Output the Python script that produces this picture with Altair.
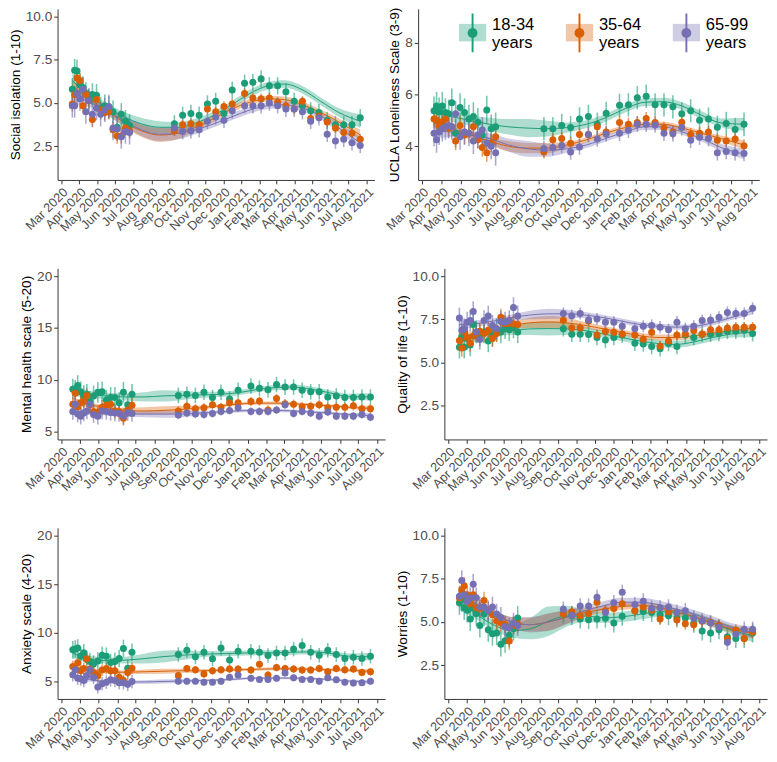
import altair as alt
import pandas as pd

GROUPS = ["18-34 years", "35-64 years", "65-99 years"]
GROUP_KEYS = ["18-34|years", "35-64|years", "65-99|years"]
COLORS = ["#1B9E77", "#D95F02", "#7570B3"]

EARLY_DATES = ["2020/03/20", "2020/03/24", "2020/03/28", "2020/04/02", "2020/04/07",
               "2020/04/12", "2020/04/17", "2020/04/23", "2020/04/30", "2020/05/07",
               "2020/05/14", "2020/05/21", "2020/05/28", "2020/06/04", "2020/06/11",
               "2020/06/18", "2020/06/25"]
LATE_DATES = ["2020/09/09", "2020/09/23", "2020/10/07", "2020/10/21", "2020/11/04",
              "2020/11/18", "2020/12/02", "2020/12/16", "2021/01/06", "2021/01/20",
              "2021/02/03", "2021/02/17", "2021/03/03", "2021/03/17", "2021/03/31",
              "2021/04/14", "2021/04/28", "2021/05/12", "2021/05/26", "2021/06/09",
              "2021/06/23", "2021/07/07", "2021/07/21"]
KNOT_DATES = ["2020/03/20", "2020/04/15", "2020/05/15", "2020/06/15", "2020/07/15",
              "2020/08/15", "2020/09/15", "2020/10/15", "2020/11/15", "2020/12/15",
              "2021/01/15", "2021/02/15", "2021/03/15", "2021/04/15", "2021/05/15",
              "2021/06/15", "2021/07/21"]

# ---------------- Social isolation (1-10)
SOC_A_EARLY = [5.8, 6.9, 6.85, 6.05, 5.9, 5.55, 5.2, 5.5, 5.45, 4.7, 4.85, 4.75, 4.5, 3.6, 4.35, 3.95, 3.7]
SOC_A_LATE = [3.8, 4.3, 4.4, 4.3, 4.95, 5.1, 4.4, 5.75, 6.15, 6.2, 6.4, 6.0, 6.0, 5.65, 5.1, 4.85, 4.55, 4.45, 4.0, 3.75, 3.75, 3.75, 4.15]
SOC_B_EARLY = [4.95, 5.5, 6.45, 6.3, 4.85, 5.5, 5.15, 4.05, 5.2, 4.6, 4.45, 4.5, 3.45, 3.1, 3.1, 3.55, 3.4]
SOC_B_LATE = [3.4, 3.75, 3.8, 3.75, 4.65, 4.5, 4.8, 4.95, 5.55, 5.3, 5.25, 5.3, 5.05, 4.85, 4.65, 5.1, 4.1, 4.25, 3.9, 3.55, 3.3, 3.25, 2.9]
SOC_C_EARLY = [4.85, 4.85, 5.55, 5.25, 5.8, 4.5, 5.15, 4.35, 4.7, 4.35, 4.6, 4.8, 3.55, 3.5, 3.05, 3.35, 3.3]
SOC_C_LATE = [3.55, 3.35, 3.4, 3.45, 3.95, 4.2, 4.0, 4.55, 4.85, 4.85, 4.85, 5.0, 4.85, 4.65, 4.65, 4.5, 3.95, 4.15, 3.2, 2.8, 2.9, 2.7, 2.55]
SOC_ERR = [(0.65, 0.5), (0.45, 0.3), (0.7, 0.45)]
SOC_A_FIT = [6.3, 5.5, 4.8, 4.2, 3.8, 3.6, 3.6, 3.85, 4.3, 4.9, 5.55, 6.0, 6.1, 5.75, 5.1, 4.45, 3.95]
SOC_B_FIT = [6.0, 5.3, 4.6, 3.9, 3.4, 3.15, 3.25, 3.6, 4.1, 4.65, 5.05, 5.25, 5.2, 4.9, 4.45, 3.9, 3.15]
SOC_C_FIT = [5.4, 5.1, 4.6, 4.0, 3.45, 3.2, 3.25, 3.45, 3.8, 4.2, 4.6, 4.85, 4.9, 4.7, 4.25, 3.55, 2.7]
SOC_A_BAND = [0.45, 0.3, 0.25, 0.3, 0.35, 0.35, 0.3, 0.25, 0.22, 0.22, 0.22, 0.22, 0.22, 0.22, 0.22, 0.25, 0.4]
SOC_B_BAND = [0.35, 0.25, 0.2, 0.25, 0.35, 0.4, 0.35, 0.22, 0.18, 0.18, 0.18, 0.18, 0.18, 0.18, 0.18, 0.2, 0.3]
SOC_C_BAND = [0.45, 0.3, 0.25, 0.3, 0.35, 0.4, 0.35, 0.25, 0.2, 0.2, 0.2, 0.2, 0.2, 0.2, 0.2, 0.25, 0.35]

# ---------------- UCLA Loneliness Scale (3-9)
UCLA_A_EARLY = [5.37, 5.55, 5.33, 5.55, 5.3, 5.25, 5.68, 4.5, 5.5, 5.3, 5.05, 5.15, 4.93, 4.43, 5.4, 4.68, 4.75]
UCLA_A_LATE = [4.68, 4.68, 4.8, 4.72, 5.05, 5.15, 4.85, 5.27, 5.58, 5.6, 5.87, 5.93, 5.6, 5.6, 5.52, 5.25, 5.37, 5.0, 5.05, 4.73, 4.88, 4.65, 4.85]
UCLA_B_EARLY = [5.05, 5.0, 4.8, 4.95, 5.05, 4.7, 4.75, 4.2, 4.8, 4.43, 4.5, 4.75, 4.25, 3.95, 3.75, 4.13, 4.37]
UCLA_B_LATE = [3.78, 4.25, 4.3, 4.12, 4.45, 4.45, 4.75, 4.55, 4.92, 4.85, 4.92, 5.07, 4.92, 4.7, 4.55, 4.93, 4.45, 4.5, 4.55, 4.23, 4.2, 4.28, 4.02]
UCLA_C_EARLY = [4.5, 4.25, 4.55, 4.68, 4.75, 4.8, 4.75, 5.25, 4.37, 4.55, 4.5, 4.2, 4.43, 4.63, 4.13, 4.0, 3.75]
UCLA_C_LATE = [3.9, 3.95, 4.03, 3.78, 3.97, 4.45, 4.28, 4.47, 4.5, 4.62, 4.85, 4.85, 4.82, 4.5, 4.48, 4.72, 4.23, 4.35, 4.3, 3.75, 3.8, 3.75, 3.72]
UCLA_ERR = [(0.55, 0.45), (0.35, 0.25), (0.5, 0.3)]
UCLA_A_FIT = [5.3, 5.15, 5.0, 4.85, 4.75, 4.7, 4.68, 4.72, 4.85, 5.1, 5.45, 5.7, 5.72, 5.55, 5.2, 4.9, 4.85]
UCLA_B_FIT = [4.9, 4.7, 4.45, 4.2, 4.0, 3.93, 3.93, 4.05, 4.25, 4.5, 4.72, 4.85, 4.85, 4.7, 4.5, 4.3, 4.05]
UCLA_C_FIT = [4.6, 4.55, 4.45, 4.3, 4.05, 3.9, 3.85, 3.9, 4.05, 4.3, 4.55, 4.75, 4.75, 4.55, 4.3, 3.95, 3.7]
UCLA_A_BAND = [0.3, 0.2, 0.2, 0.25, 0.3, 0.35, 0.3, 0.2, 0.15, 0.15, 0.15, 0.15, 0.15, 0.15, 0.15, 0.17, 0.25]
UCLA_B_BAND = [0.2, 0.15, 0.12, 0.15, 0.2, 0.2, 0.2, 0.12, 0.1, 0.1, 0.1, 0.1, 0.1, 0.1, 0.1, 0.12, 0.18]
UCLA_C_BAND = [0.3, 0.2, 0.15, 0.2, 0.25, 0.3, 0.25, 0.15, 0.12, 0.12, 0.12, 0.12, 0.12, 0.12, 0.12, 0.15, 0.2]

# ---------------- Mental health scale (5-20)
MH_A_EARLY = [9.1, 9.0, 9.45, 8.85, 8.5, 8.6, 7.9, 8.45, 8.8, 8.85, 8.05, 8.3, 8.3, 7.8, 8.8, 7.6, 8.6]
MH_A_LATE = [8.5, 8.6, 8.5, 8.8, 8.3, 8.8, 8.15, 9.0, 9.4, 9.2, 9.05, 9.55, 9.3, 9.3, 9.0, 8.85, 8.85, 8.35, 8.45, 8.3, 8.3, 8.35, 8.35]
MH_B_EARLY = [7.65, 8.7, 7.4, 7.8, 7.95, 8.5, 7.6, 6.95, 6.9, 7.35, 7.55, 7.65, 7.0, 6.95, 6.3, 7.1, 7.55]
MH_B_LATE = [7.0, 7.45, 7.2, 7.3, 7.6, 7.35, 7.8, 7.8, 7.9, 7.95, 7.1, 8.2, 7.7, 7.65, 7.4, 7.45, 7.6, 7.3, 7.35, 7.35, 7.5, 7.2, 7.2]
MH_C_EARLY = [6.95, 7.65, 6.7, 6.5, 6.8, 7.0, 7.65, 6.65, 6.5, 7.0, 6.95, 6.85, 6.8, 6.75, 6.5, 6.85, 6.75]
MH_C_LATE = [6.6, 6.8, 6.7, 6.65, 6.75, 6.95, 7.05, 7.3, 6.95, 6.95, 6.95, 7.1, 7.6, 6.75, 6.95, 6.8, 6.5, 6.9, 6.5, 6.5, 6.5, 6.65, 6.4]
MH_ERR = [(1.0, 0.75), (0.7, 0.45), (0.8, 0.4)]
MH_A_FIT = [9.0, 8.6, 8.45, 8.35, 8.35, 8.45, 8.5, 8.55, 8.6, 8.75, 9.05, 9.25, 9.3, 9.1, 8.75, 8.4, 8.35]
MH_B_FIT = [7.9, 7.6, 7.3, 7.05, 7.0, 7.05, 7.15, 7.3, 7.5, 7.65, 7.75, 7.75, 7.7, 7.6, 7.5, 7.35, 7.25]
MH_C_FIT = [7.0, 6.85, 6.75, 6.7, 6.7, 6.7, 6.7, 6.8, 6.9, 7.0, 7.05, 7.05, 7.0, 6.9, 6.8, 6.65, 6.55]
MH_A_BAND = [0.5, 0.35, 0.3, 0.35, 0.45, 0.55, 0.45, 0.3, 0.25, 0.25, 0.25, 0.25, 0.25, 0.25, 0.25, 0.25, 0.35]
MH_B_BAND = [0.4, 0.25, 0.2, 0.25, 0.35, 0.4, 0.35, 0.2, 0.15, 0.15, 0.15, 0.15, 0.15, 0.15, 0.15, 0.15, 0.25]
MH_C_BAND = [0.4, 0.25, 0.2, 0.25, 0.3, 0.35, 0.3, 0.2, 0.15, 0.15, 0.15, 0.15, 0.15, 0.15, 0.15, 0.15, 0.25]

# ---------------- Quality of life (1-10)
QOL_A_EARLY = [5.89, 6.49, 5.89, 6.4, 6.02, 7.2, 6.77, 6.59, 6.77, 6.25, 6.59, 6.87, 6.77, 7.02, 6.9, 7.05, 6.77]
QOL_A_LATE = [6.96, 6.64, 6.64, 6.62, 6.45, 6.3, 6.45, 6.59, 6.12, 6.08, 5.93, 5.8, 6.1, 5.93, 6.59, 6.45, 6.64, 6.64, 6.68, 6.81, 6.81, 6.87, 6.68]
QOL_B_EARLY = [6.27, 5.84, 6.77, 6.45, 6.12, 6.53, 6.68, 6.81, 6.68, 6.87, 6.4, 6.68, 7.62, 7.25, 7.28, 7.25, 7.2]
QOL_B_LATE = [7.45, 7.0, 7.0, 7.4, 6.6, 6.8, 6.75, 6.65, 6.6, 6.35, 6.75, 5.95, 6.25, 6.6, 6.65, 6.85, 6.65, 6.9, 6.9, 7.0, 7.05, 7.05, 7.05]
QOL_C_EARLY = [7.58, 6.87, 6.96, 7.34, 7.43, 7.95, 6.77, 6.34, 7.43, 7.7, 7.15, 6.96, 7.37, 7.34, 7.43, 8.18, 7.7]
QOL_C_LATE = [7.84, 7.71, 7.84, 7.47, 7.52, 7.34, 7.34, 7.1, 6.96, 7.1, 7.15, 7.05, 6.9, 7.34, 6.96, 7.1, 7.43, 7.47, 7.62, 7.9, 7.84, 7.84, 8.14]
QOL_ERR = [(0.65, 0.45), (0.5, 0.3), (0.6, 0.35)]
QOL_A_FIT = [6.2, 6.45, 6.7, 6.85, 6.95, 6.97, 6.95, 6.85, 6.65, 6.45, 6.25, 6.1, 6.05, 6.2, 6.45, 6.65, 6.75]
QOL_B_FIT = [6.4, 6.65, 6.9, 7.15, 7.3, 7.35, 7.3, 7.15, 6.95, 6.75, 6.55, 6.45, 6.45, 6.55, 6.7, 6.85, 7.0]
QOL_C_FIT = [7.2, 7.25, 7.4, 7.6, 7.75, 7.82, 7.82, 7.75, 7.6, 7.4, 7.2, 7.1, 7.05, 7.1, 7.3, 7.6, 8.0]
QOL_A_BAND = [0.35, 0.25, 0.2, 0.25, 0.35, 0.4, 0.35, 0.22, 0.2, 0.2, 0.2, 0.2, 0.2, 0.2, 0.2, 0.2, 0.28]
QOL_B_BAND = [0.3, 0.2, 0.18, 0.22, 0.3, 0.35, 0.3, 0.2, 0.17, 0.17, 0.17, 0.17, 0.17, 0.17, 0.17, 0.17, 0.25]
QOL_C_BAND = [0.3, 0.2, 0.15, 0.18, 0.25, 0.3, 0.25, 0.17, 0.15, 0.15, 0.15, 0.15, 0.15, 0.15, 0.15, 0.15, 0.22]

# ---------------- Anxiety scale (4-20)
ANX_A_EARLY = [8.27, 8.35, 8.45, 7.6, 7.95, 7.25, 7.05, 6.8, 7.1, 7.7, 7.6, 6.95, 7.05, 7.35, 8.4, 6.35, 8.0]
ANX_A_LATE = [7.77, 8.2, 7.53, 8.0, 7.33, 8.43, 7.2, 8.1, 8.1, 8.0, 7.67, 7.93, 7.93, 8.33, 8.7, 8.0, 7.7, 8.2, 7.77, 7.37, 7.5, 7.37, 7.6]
ANX_B_EARLY = [6.53, 6.2, 6.93, 6.1, 6.33, 7.33, 6.27, 5.93, 5.6, 6.17, 6.33, 6.1, 6.1, 5.43, 5.1, 5.93, 6.37]
ANX_B_LATE = [5.6, 6.33, 6.2, 5.77, 6.1, 6.2, 6.27, 6.27, 6.17, 6.77, 5.67, 6.43, 6.33, 6.27, 6.17, 6.17, 6.33, 6.0, 6.33, 6.2, 6.27, 5.93, 6.0]
ANX_C_EARLY = [5.7, 6.2, 5.33, 5.27, 5.1, 5.6, 6.2, 5.43, 4.43, 4.77, 4.93, 5.17, 5.1, 4.87, 4.87, 4.7, 5.0]
ANX_C_LATE = [5.03, 5.03, 5.03, 4.93, 4.93, 5.03, 5.43, 5.67, 5.33, 5.2, 5.2, 5.33, 5.87, 5.37, 5.2, 5.2, 5.03, 5.37, 5.17, 4.93, 4.83, 4.87, 5.03]
ANX_ERR = [(0.9, 0.75), (0.6, 0.4), (0.7, 0.35)]
ANX_A_FIT = [7.9, 7.35, 7.15, 7.2, 7.35, 7.55, 7.7, 7.8, 7.85, 7.9, 7.95, 7.95, 8.0, 8.05, 7.9, 7.6, 7.55]
ANX_B_FIT = [6.5, 6.2, 6.0, 5.95, 6.0, 6.05, 6.1, 6.1, 6.15, 6.2, 6.25, 6.3, 6.3, 6.25, 6.2, 6.15, 6.05]
ANX_C_FIT = [5.6, 5.2, 5.0, 4.95, 4.95, 5.0, 5.05, 5.1, 5.15, 5.25, 5.35, 5.35, 5.35, 5.3, 5.2, 5.05, 4.95]
ANX_A_BAND = [0.5, 0.35, 0.3, 0.35, 0.5, 0.6, 0.5, 0.3, 0.25, 0.25, 0.25, 0.25, 0.25, 0.25, 0.25, 0.28, 0.4]
ANX_B_BAND = [0.3, 0.2, 0.15, 0.18, 0.22, 0.25, 0.22, 0.17, 0.15, 0.15, 0.15, 0.15, 0.15, 0.15, 0.15, 0.15, 0.2]
ANX_C_BAND = [0.3, 0.2, 0.15, 0.15, 0.18, 0.2, 0.18, 0.14, 0.12, 0.12, 0.12, 0.12, 0.12, 0.12, 0.12, 0.12, 0.18]

# ---------------- Worries (1-10)
WOR_A_EARLY = [6.12, 6.3, 5.83, 5.68, 5.18, 5.83, 5.5, 4.8, 5.46, 4.56, 4.33, 4.37, 3.71, 3.92, 4.24, 4.62, 5.23]
WOR_A_LATE = [5.46, 5.37, 5.18, 5.14, 5.18, 5.22, 4.95, 5.33, 5.65, 5.61, 5.55, 5.42, 5.37, 5.23, 5.23, 4.93, 4.48, 4.37, 4.56, 4.15, 4.05, 4.05, 4.37]
WOR_B_EARLY = [6.4, 6.87, 7.1, 6.58, 6.06, 6.58, 5.83, 5.78, 6.25, 5.65, 5.42, 5.08, 4.94, 4.86, 3.9, 4.8, 4.9]
WOR_B_LATE = [5.46, 5.59, 5.37, 5.5, 6.15, 5.65, 5.78, 6.06, 5.65, 5.87, 5.68, 5.18, 5.59, 5.12, 4.9, 4.84, 5.05, 4.99, 4.8, 4.05, 4.52, 4.05, 4.43]
WOR_C_EARLY = [6.5, 7.4, 6.58, 6.2, 6.4, 7.19, 6.4, 5.87, 5.87, 5.65, 5.87, 5.46, 5.27, 4.75, 4.65, 4.94, 4.8]
WOR_C_LATE = [5.74, 5.4, 5.93, 5.93, 6.44, 5.55, 6.12, 6.72, 6.02, 6.21, 5.8, 5.83, 5.87, 5.55, 5.65, 5.23, 5.08, 4.95, 4.71, 3.83, 4.3, 4.58, 4.58]
WOR_ERR = [(0.7, 0.55), (0.5, 0.35), (0.6, 0.45)]
WOR_A_FIT = [6.1, 5.5, 4.85, 4.5, 4.6, 5.05, 5.35, 5.35, 5.25, 5.3, 5.45, 5.6, 5.55, 5.3, 4.95, 4.55, 4.2]
WOR_B_FIT = [6.6, 6.05, 5.5, 5.0, 4.85, 5.0, 5.3, 5.55, 5.75, 5.9, 5.95, 5.85, 5.6, 5.3, 4.95, 4.6, 4.35]
WOR_C_FIT = [6.7, 6.1, 5.5, 5.0, 4.85, 5.0, 5.3, 5.65, 5.95, 6.15, 6.15, 6.0, 5.75, 5.45, 5.1, 4.7, 4.4]
WOR_A_BAND = [0.4, 0.3, 0.3, 0.4, 0.6, 0.85, 0.6, 0.35, 0.3, 0.3, 0.3, 0.3, 0.25, 0.25, 0.25, 0.25, 0.35]
WOR_B_BAND = [0.35, 0.25, 0.2, 0.3, 0.4, 0.5, 0.4, 0.25, 0.2, 0.2, 0.2, 0.2, 0.2, 0.2, 0.2, 0.22, 0.3]
WOR_C_BAND = [0.4, 0.3, 0.25, 0.3, 0.45, 0.5, 0.4, 0.28, 0.25, 0.25, 0.25, 0.25, 0.25, 0.25, 0.25, 0.25, 0.33]

FONT = "Liberation Sans"
# legend key shapes (unit symbol space); shifted down to sit beside the two-line label
FILL_PATH = "M-1,-0.04H1V1.24H-1Z"
POINT_PATH = ("M-0.07,-0.83H0.07V2.03H-0.07Z "
              "M0.36,0.6A0.36,0.36 0 1,1 -0.36,0.6A0.36,0.36 0 1,1 0.36,0.6Z")

LEG_COMMON = dict(title=None, orient="none", legendX=413, legendY=2, direction="horizontal",
                  symbolSize=784, labelFontSize=17,
                  labelFont=FONT, labelOffset=6, columnPadding=32, padding=0,
                  symbolStrokeWidth=0)
FILL_LEGEND = alt.Legend(symbolType=FILL_PATH, symbolOpacity=0.35, labelColor="transparent",
                         labelExpr="split(datum.label, ' ')", zindex=0, **LEG_COMMON)
COLOR_LEGEND = alt.Legend(symbolType=POINT_PATH, symbolOpacity=1, labelColor="black",
                          labelExpr="split(datum.label, '|')", zindex=1, **LEG_COMMON)

X_SCALE = alt.Scale(domain=[alt.DateTime(year=2020, month=2, date=24),
                            alt.DateTime(year=2021, month=8, date=14)], nice=False)
X_AXIS = alt.Axis(format="%b %Y", tickCount={"interval": "month", "step": 1},
                  labelAngle=315, labelAlign="right", labelBaseline="top",
                  labelFlush=False, labelOverlap=False, labelFontSize=13, title=None)


def make_points(series, errs):
    rows = []
    for g, k, (early, late), (e_early, e_late) in zip(GROUPS, GROUP_KEYS, series, errs):
        for d, v in zip(EARLY_DATES, early):
            rows.append({"date": d, "grp": k, "group": g, "value": v,
                         "lo": v - e_early, "hi": v + e_early})
        for d, v in zip(LATE_DATES, late):
            rows.append({"date": d, "grp": k, "group": g, "value": v,
                         "lo": v - e_late, "hi": v + e_late})
    return pd.DataFrame(rows)


def make_smooth(fits, bands):
    rows = []
    for g, fit, band in zip(GROUPS, fits, bands):
        for d, f, b in zip(KNOT_DATES, fit, band):
            rows.append({"date": d, "group": g, "fit": f, "lo": f - b, "hi": f + b})
    return pd.DataFrame(rows)


def panel(title, series, errs, fits, bands, domain, ticks, fmt, width, height):
    pts = make_points(series, errs)
    sm = make_smooth(fits, bands)
    ys = alt.Scale(domain=domain, nice=False, zero=False)
    ya = alt.Axis(values=ticks, format=fmt, labelFontSize=14, title=title)
    x = alt.X("date:T", scale=X_SCALE, axis=X_AXIS)
    fill = alt.Fill("group:N", scale=alt.Scale(domain=GROUPS, range=COLORS), legend=FILL_LEGEND)
    color = alt.Color("grp:N", scale=alt.Scale(domain=GROUP_KEYS, range=COLORS), legend=COLOR_LEGEND)
    stroke = alt.Stroke("group:N", scale=alt.Scale(domain=GROUPS, range=COLORS), legend=None)

    band = alt.Chart(sm).mark_area(opacity=0.35, interpolate="monotone").encode(
        x=x, y=alt.Y("lo:Q", scale=ys, axis=ya, title=title), y2="hi:Q", fill=fill)
    line = alt.Chart(sm).mark_line(strokeWidth=1, interpolate="monotone").encode(
        x=x, y=alt.Y("fit:Q", scale=ys, axis=ya, title=title), stroke=stroke)
    rules = alt.Chart(pts).mark_rule(strokeWidth=1.6, opacity=0.6).encode(
        x=x, y=alt.Y("lo:Q", scale=ys, axis=ya, title=title), y2="hi:Q", stroke=stroke)
    dots = alt.Chart(pts).mark_circle(size=52, opacity=1).encode(
        x=x, y=alt.Y("value:Q", scale=ys, axis=ya, title=title), color=color)
    return alt.layer(band, line, rules, dots).properties(width=width, height=height)


H = 176
p_soc = panel("Social isolation (1-10)",
              [(SOC_A_EARLY, SOC_A_LATE), (SOC_B_EARLY, SOC_B_LATE), (SOC_C_EARLY, SOC_C_LATE)],
              SOC_ERR, [SOC_A_FIT, SOC_B_FIT, SOC_C_FIT], [SOC_A_BAND, SOC_B_BAND, SOC_C_BAND],
              [0.55, 10.45], [2.5, 5.0, 7.5, 10.0], ".1f", 326, H)
p_ucla = panel("UCLA Loneliness Scale (3-9)",
               [(UCLA_A_EARLY, UCLA_A_LATE), (UCLA_B_EARLY, UCLA_B_LATE), (UCLA_C_EARLY, UCLA_C_LATE)],
               UCLA_ERR, [UCLA_A_FIT, UCLA_B_FIT, UCLA_C_FIT], [UCLA_A_BAND, UCLA_B_BAND, UCLA_C_BAND],
               [2.7, 9.3], [4, 6, 8], "d", 351, H)
p_mh = panel("Mental health scale (5-20)",
             [(MH_A_EARLY, MH_A_LATE), (MH_B_EARLY, MH_B_LATE), (MH_C_EARLY, MH_C_LATE)],
             MH_ERR, [MH_A_FIT, MH_B_FIT, MH_C_FIT], [MH_A_BAND, MH_B_BAND, MH_C_BAND],
             [4.25, 20.75], [5, 10, 15, 20], "d", 337, H)
p_qol = panel("Quality of life (1-10)",
              [(QOL_A_EARLY, QOL_A_LATE), (QOL_B_EARLY, QOL_B_LATE), (QOL_C_EARLY, QOL_C_LATE)],
              QOL_ERR, [QOL_A_FIT, QOL_B_FIT, QOL_C_FIT], [QOL_A_BAND, QOL_B_BAND, QOL_C_BAND],
              [0.55, 10.45], [2.5, 5.0, 7.5, 10.0], ".1f", 332, H)
p_anx = panel("Anxiety scale (4-20)",
              [(ANX_A_EARLY, ANX_A_LATE), (ANX_B_EARLY, ANX_B_LATE), (ANX_C_EARLY, ANX_C_LATE)],
              ANX_ERR, [ANX_A_FIT, ANX_B_FIT, ANX_C_FIT], [ANX_A_BAND, ANX_B_BAND, ANX_C_BAND],
              [3.2, 20.8], [5, 10, 15, 20], "d", 337, H)
p_wor = panel("Worries (1-10)",
              [(WOR_A_EARLY, WOR_A_LATE), (WOR_B_EARLY, WOR_B_LATE), (WOR_C_EARLY, WOR_C_LATE)],
              WOR_ERR, [WOR_A_FIT, WOR_B_FIT, WOR_C_FIT], [WOR_A_BAND, WOR_B_BAND, WOR_C_BAND],
              [0.55, 10.45], [2.5, 5.0, 7.5, 10.0], ".1f", 332, H)

chart = alt.vconcat(
    alt.hconcat(p_soc, p_ucla, spacing=8),
    alt.hconcat(p_mh, p_qol, spacing=8),
    alt.hconcat(p_anx, p_wor, spacing=8),
    spacing=35,
).properties(
    padding={"left": 0, "top": -13, "right": 0, "bottom": 0}
).configure(
    font=FONT
).configure_view(
    stroke=None
).configure_axis(
    grid=False, domainColor="#333333", tickColor="#333333", tickSize=4,
    labelColor="#4d4d4d", labelFont=FONT, titleFont=FONT, titleFontSize=14,
    titleFontWeight="normal", titleColor="black", labelPadding=2, titlePadding=3
)

chart.save("out.html", embed_options={"renderer": "svg", "actions": False})
